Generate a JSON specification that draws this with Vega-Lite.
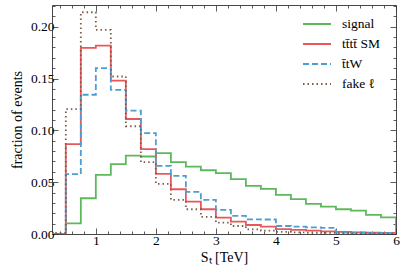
{
  "$schema": "https://vega.github.io/schema/vega-lite/v6.json",
  "autosize": {"type": "none"},
  "width": 344,
  "height": 229,
  "padding": {"left": 52, "top": 5, "right": 10, "bottom": 42},
  "background": "white",
  "config": {
    "view": {"stroke": null},
    "font": "Liberation Serif",
    "axis": {
      "domainColor": "#333333",
      "tickColor": "#333333",
      "labelColor": "#000000",
      "titleColor": "#000000",
      "labelFont": "Liberation Serif",
      "titleFont": "Liberation Serif",
      "labelFontSize": 13.5,
      "titleFontSize": 14,
      "titleFontWeight": "normal",
      "grid": false,
      "tickWidth": 0.8,
      "domainWidth": 0.9
    },
    "legend": {"labelFont": "Liberation Serif", "labelFontSize": 13.5}
  },
  "data": {
    "values": [
      {"s": "signal", "x": 0.25, "y": 0.0},
      {"s": "signal", "x": 0.5, "y": 0.0103},
      {"s": "signal", "x": 0.75, "y": 0.0345},
      {"s": "signal", "x": 1.0, "y": 0.0571},
      {"s": "signal", "x": 1.25, "y": 0.0674},
      {"s": "signal", "x": 1.5, "y": 0.0757},
      {"s": "signal", "x": 1.75, "y": 0.0748},
      {"s": "signal", "x": 2.0, "y": 0.078},
      {"s": "signal", "x": 2.25, "y": 0.0693},
      {"s": "signal", "x": 2.5, "y": 0.0651},
      {"s": "signal", "x": 2.75, "y": 0.0615},
      {"s": "signal", "x": 3.0, "y": 0.0587},
      {"s": "signal", "x": 3.25, "y": 0.0529},
      {"s": "signal", "x": 3.5, "y": 0.0464},
      {"s": "signal", "x": 3.75, "y": 0.0435},
      {"s": "signal", "x": 4.0, "y": 0.0377},
      {"s": "signal", "x": 4.25, "y": 0.0336},
      {"s": "signal", "x": 4.5, "y": 0.029},
      {"s": "signal", "x": 4.75, "y": 0.0264},
      {"s": "signal", "x": 5.0, "y": 0.0239},
      {"s": "signal", "x": 5.25, "y": 0.0226},
      {"s": "signal", "x": 5.5, "y": 0.0184},
      {"s": "signal", "x": 5.75, "y": 0.0161},
      {"s": "signal", "x": 6.0, "y": 0.0},
      {"s": "tt̄tt̄ SM", "x": 0.25, "y": 0.0},
      {"s": "tt̄tt̄ SM", "x": 0.5, "y": 0.0867},
      {"s": "tt̄tt̄ SM", "x": 0.75, "y": 0.1796},
      {"s": "tt̄tt̄ SM", "x": 1.0, "y": 0.1818},
      {"s": "tt̄tt̄ SM", "x": 1.25, "y": 0.148},
      {"s": "tt̄tt̄ SM", "x": 1.5, "y": 0.111},
      {"s": "tt̄tt̄ SM", "x": 1.75, "y": 0.0819},
      {"s": "tt̄tt̄ SM", "x": 2.0, "y": 0.058},
      {"s": "tt̄tt̄ SM", "x": 2.25, "y": 0.0432},
      {"s": "tt̄tt̄ SM", "x": 2.5, "y": 0.0313},
      {"s": "tt̄tt̄ SM", "x": 2.75, "y": 0.0239},
      {"s": "tt̄tt̄ SM", "x": 3.0, "y": 0.0158},
      {"s": "tt̄tt̄ SM", "x": 3.25, "y": 0.0119},
      {"s": "tt̄tt̄ SM", "x": 3.5, "y": 0.0087},
      {"s": "tt̄tt̄ SM", "x": 3.75, "y": 0.0071},
      {"s": "tt̄tt̄ SM", "x": 4.0, "y": 0.0048},
      {"s": "tt̄tt̄ SM", "x": 4.25, "y": 0.0039},
      {"s": "tt̄tt̄ SM", "x": 4.5, "y": 0.0032},
      {"s": "tt̄tt̄ SM", "x": 4.75, "y": 0.0026},
      {"s": "tt̄tt̄ SM", "x": 5.0, "y": 0.002},
      {"s": "tt̄tt̄ SM", "x": 5.25, "y": 0.0016},
      {"s": "tt̄tt̄ SM", "x": 5.5, "y": 0.0012},
      {"s": "tt̄tt̄ SM", "x": 5.75, "y": 0.001},
      {"s": "tt̄tt̄ SM", "x": 6.0, "y": 0.0},
      {"s": "t̄tW", "x": 0.25, "y": 0.0},
      {"s": "t̄tW", "x": 0.5, "y": 0.0577},
      {"s": "t̄tW", "x": 0.75, "y": 0.1344},
      {"s": "t̄tW", "x": 1.0, "y": 0.16},
      {"s": "t̄tW", "x": 1.25, "y": 0.139},
      {"s": "t̄tW", "x": 1.5, "y": 0.119},
      {"s": "t̄tW", "x": 1.75, "y": 0.0974},
      {"s": "t̄tW", "x": 2.0, "y": 0.0658},
      {"s": "t̄tW", "x": 2.25, "y": 0.0561},
      {"s": "t̄tW", "x": 2.5, "y": 0.0406},
      {"s": "t̄tW", "x": 2.75, "y": 0.0329},
      {"s": "t̄tW", "x": 3.0, "y": 0.0232},
      {"s": "t̄tW", "x": 3.25, "y": 0.0174},
      {"s": "t̄tW", "x": 3.5, "y": 0.0142},
      {"s": "t̄tW", "x": 3.75, "y": 0.014},
      {"s": "t̄tW", "x": 4.0, "y": 0.0077},
      {"s": "t̄tW", "x": 4.25, "y": 0.0071},
      {"s": "t̄tW", "x": 4.5, "y": 0.0064},
      {"s": "t̄tW", "x": 4.75, "y": 0.006},
      {"s": "t̄tW", "x": 5.0, "y": 0.0013},
      {"s": "t̄tW", "x": 5.25, "y": 0.0012},
      {"s": "t̄tW", "x": 5.5, "y": 0.001},
      {"s": "t̄tW", "x": 5.75, "y": 0.001},
      {"s": "t̄tW", "x": 6.0, "y": 0.0},
      {"s": "fake ℓ", "x": 0.25, "y": 0.001},
      {"s": "fake ℓ", "x": 0.5, "y": 0.1206},
      {"s": "fake ℓ", "x": 0.75, "y": 0.214},
      {"s": "fake ℓ", "x": 1.0, "y": 0.197},
      {"s": "fake ℓ", "x": 1.25, "y": 0.152},
      {"s": "fake ℓ", "x": 1.5, "y": 0.104},
      {"s": "fake ℓ", "x": 1.75, "y": 0.0693},
      {"s": "fake ℓ", "x": 2.0, "y": 0.0484},
      {"s": "fake ℓ", "x": 2.25, "y": 0.0329},
      {"s": "fake ℓ", "x": 2.5, "y": 0.0239},
      {"s": "fake ℓ", "x": 2.75, "y": 0.0165},
      {"s": "fake ℓ", "x": 3.0, "y": 0.0109},
      {"s": "fake ℓ", "x": 3.25, "y": 0.0077},
      {"s": "fake ℓ", "x": 3.5, "y": 0.0045},
      {"s": "fake ℓ", "x": 3.75, "y": 0.0032},
      {"s": "fake ℓ", "x": 4.0, "y": 0.002},
      {"s": "fake ℓ", "x": 4.25, "y": 0.0015},
      {"s": "fake ℓ", "x": 4.5, "y": 0.0012},
      {"s": "fake ℓ", "x": 4.75, "y": 0.001},
      {"s": "fake ℓ", "x": 5.0, "y": 0.0008},
      {"s": "fake ℓ", "x": 5.25, "y": 0.0006},
      {"s": "fake ℓ", "x": 5.5, "y": 0.0005},
      {"s": "fake ℓ", "x": 5.75, "y": 0.0004},
      {"s": "fake ℓ", "x": 6.0, "y": 0.0}
    ]
  },
  "resolve": {"axis": {"x": "independent", "y": "independent"}},
  "layer": [
    {
      "mark": {"type": "line", "interpolate": "step-after", "strokeWidth": 1.8, "clip": true},
      "encoding": {
        "x": {
          "field": "x", "type": "quantitative",
          "scale": {"domain": [0.27, 6.0], "nice": false, "zero": false},
          "axis": {
            "orient": "bottom",
            "title": "Sₜ [TeV]",
            "labelFont": "Liberation Serif",
            "labelFontSize": 13.5,
            "values": [0.4, 0.6, 0.8, 1, 1.2, 1.4, 1.6, 1.8, 2, 2.2, 2.4, 2.6, 2.8, 3, 3.2, 3.4, 3.6, 3.8, 4, 4.2, 4.4, 4.6, 4.8, 5, 5.2, 5.4, 5.6, 5.8, 6],
            "labelExpr": "abs(datum.value - round(datum.value)) < 0.001 ? format(datum.value, 'd') : ''",
            "tickSize": {"condition": {"test": "abs(datum.value - round(datum.value)) < 0.001", "value": -6}, "value": -3},
            "labelPadding": 5,
            "titlePadding": 1,
            "labelFlush": false,
            "labelOverlap": false
          }
        },
        "y": {
          "field": "y", "type": "quantitative",
          "scale": {"domain": [0, 0.221], "nice": false},
          "axis": {
            "orient": "left",
            "title": "fraction of events",
            "labelFont": "Liberation Serif",
            "labelFontSize": 13.5,
            "values": [0, 0.01, 0.02, 0.03, 0.04, 0.05, 0.06, 0.07, 0.08, 0.09, 0.1, 0.11, 0.12, 0.13, 0.14, 0.15, 0.16, 0.17, 0.18, 0.19, 0.2, 0.21, 0.22],
            "labelExpr": "abs(datum.value * 20 - round(datum.value * 20)) < 0.001 ? format(datum.value, '.2f') : ''",
            "tickSize": {"condition": {"test": "abs(datum.value * 20 - round(datum.value * 20)) < 0.001", "value": -6}, "value": -3},
            "labelPadding": 4,
            "titlePadding": 6,
            "labelFlush": false,
            "labelOverlap": false
          }
        },
        "color": {
          "field": "s", "type": "nominal",
          "scale": {"domain": ["signal", "tt̄tt̄ SM", "t̄tW", "fake ℓ"], "range": ["#5cb85c", "#e8575a", "#4e9dd3", "#7d5c48"]},
          "legend": {
            "title": null,
            "orient": "none",
            "legendX": 250,
            "legendY": 11,
            "padding": 0,
            "symbolType": "M-1,0H3",
            "symbolSize": 196,
            "symbolStrokeWidth": 2,
            "labelOffset": 24,
            "rowPadding": 5,
            "labelLimit": 200
          }
        },
        "strokeDash": {
          "field": "s", "type": "nominal",
          "scale": {"domain": ["signal", "tt̄tt̄ SM", "t̄tW", "fake ℓ"], "range": [[1, 0], [1, 0], [6, 3], [1.5, 3]]},
          "legend": {
            "title": null,
            "orient": "none",
            "legendX": 250,
            "legendY": 11,
            "padding": 0,
            "symbolType": "M-1,0H3",
            "symbolSize": 196,
            "symbolStrokeWidth": 2,
            "labelOffset": 24,
            "rowPadding": 5,
            "labelLimit": 200
          }
        }
      }
    },
    {
      "mark": {"type": "line", "opacity": 0},
      "encoding": {
        "x": {
          "field": "x", "type": "quantitative",
          "axis": {
            "orient": "top", "title": null, "labels": false,
            "values": [0.4, 0.6, 0.8, 1, 1.2, 1.4, 1.6, 1.8, 2, 2.2, 2.4, 2.6, 2.8, 3, 3.2, 3.4, 3.6, 3.8, 4, 4.2, 4.4, 4.6, 4.8, 5, 5.2, 5.4, 5.6, 5.8, 6],
            "tickSize": {"condition": {"test": "abs(datum.value - round(datum.value)) < 0.001", "value": -6}, "value": -3}
          }
        },
        "y": {
          "field": "y", "type": "quantitative",
          "axis": {
            "orient": "right", "title": null, "labels": false,
            "values": [0, 0.01, 0.02, 0.03, 0.04, 0.05, 0.06, 0.07, 0.08, 0.09, 0.1, 0.11, 0.12, 0.13, 0.14, 0.15, 0.16, 0.17, 0.18, 0.19, 0.2, 0.21, 0.22],
            "tickSize": {"condition": {"test": "abs(datum.value * 20 - round(datum.value * 20)) < 0.001", "value": -6}, "value": -3}
          }
        }
      }
    }
  ]
}
